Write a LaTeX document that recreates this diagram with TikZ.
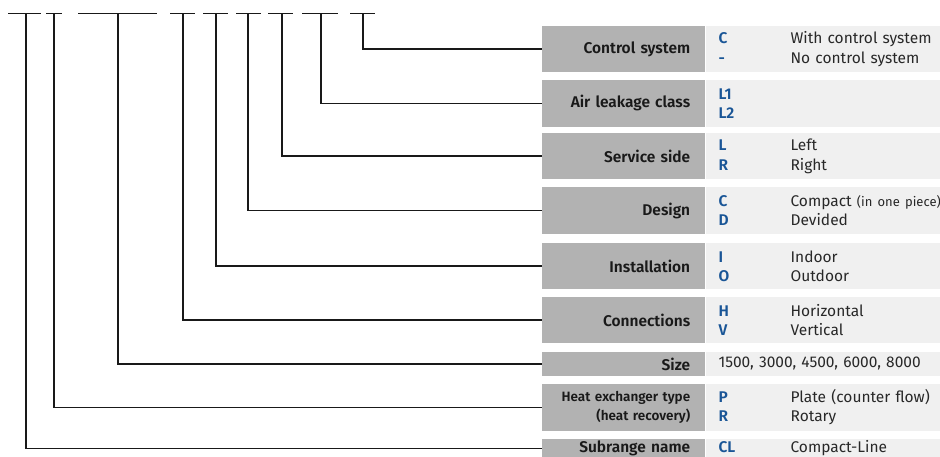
\documentclass[tikz,border=0pt]{standalone}
\usepackage{fontspec}
\setmainfont{Fira Sans}[BoldFont={Fira Sans SemiBold}]
\usetikzlibrary{positioning}

\definecolor{boxdark}{RGB}{178,178,178}
\definecolor{boxlight}{RGB}{240,240,240}
\definecolor{codeblue}{RGB}{25,85,150}
\definecolor{textgrey}{RGB}{40,40,40}

% code letter in its own column, description after it
\newcommand{\keycode}[1]{\makebox[72pt][l]{\textcolor{codeblue}{\bfseries #1}}}

\begin{document}
\begin{tikzpicture}[x=1pt,y=-1pt,
    wire/.style={line width=1.4pt,black!90},
    lbl/.style={fill=boxdark,anchor=north west,minimum width=163pt,
      minimum height=46.5pt,text width=133pt,inner xsep=15pt,align=right,
      text=black!90,font=\bfseries\fontsize{15.5}{19.5}\selectfont},
    val/.style={fill=boxlight,minimum width=235pt,minimum height=46.5pt,
      text width=230pt,inner xsep=13pt,align=left,
      text=textgrey,font=\fontsize{15.5}{19.5}\selectfont}]
  \useasboundingbox (0,0) rectangle (940,457);

  % dashes of the type code
  \foreach \a/\b in {8/41,46/62,78/157,170/195,203/228,236/261,268/293,302/338,350/375}
    \draw[wire] (\a,13.5) -- (\b,13.5);

  % rows
  \node[lbl] (ctrl) at (542,25.7) {Control system};
  \node[val,right=0pt of ctrl] (ctrlv) {\keycode{C}With control system\\\keycode{-}No control system};
  \node[lbl] (leak) at (542,80) {Air leakage class};
  \node[val,right=0pt of leak] (leakv) {\keycode{L1}\\\keycode{L2}};
  \node[lbl] (serv) at (542,132.7) {Service side};
  \node[val,right=0pt of serv] (servv) {\keycode{L}Left\\\keycode{R}Right};
  \node[lbl] (design) at (542,187.3) {Design};
  \node[val,right=0pt of design] (designv) {\keycode{C}Compact {\fontsize{13}{19.5}\selectfont(in one piece)}\\\keycode{D}Devided};
  \node[lbl] (inst) at (542,242.7) {Installation};
  \node[val,right=0pt of inst] (instv) {\keycode{I}Indoor\\\keycode{O}Outdoor};
  \node[lbl] (conn) at (542,296.7) {Connections};
  \node[val,right=0pt of conn] (connv) {\keycode{H}Horizontal\\\keycode{V}Vertical};
  \node[lbl,minimum height=24pt] (size) at (542,351.7) {Size};
  \node[val,minimum height=24pt,right=0pt of size] (sizev) {1500, 3000, 4500, 6000, 8000};
  \node[lbl,minimum height=47.4pt,font=\bfseries\fontsize{13.5}{19}\selectfont] (hex) at (542,383.3)
    {Heat exchanger type\\(heat recovery)};
  \node[val,minimum height=47.4pt,right=0pt of hex] (hexv) {\keycode{P}Plate (counter flow)\\\keycode{R}Rotary};
  \node[lbl,minimum height=20pt,inner ysep=1pt] (sub) at (542,438.3) {Subrange name};
  \node[val,minimum height=20pt,inner ysep=1pt,right=0pt of sub] (subv) {\keycode{CL}Compact-Line};

  % tops of the leaders
  \coordinate (t1) at (363,13.5);
  \coordinate (t2) at (321,13.5);
  \coordinate (t3) at (282,13.5);
  \coordinate (t4) at (248,13.5);
  \coordinate (t5) at (216,13.5);
  \coordinate (t6) at (183,13.5);
  \coordinate (t7) at (118,13.5);
  \coordinate (t8) at (54,13.5);
  \coordinate (t9) at (26,13.5);

  \draw[wire] (t1) |- (ctrl.west);
  \draw[wire] (t2) |- (leak.west);
  \draw[wire] (t3) |- (serv.west);
  \draw[wire] (t4) |- (design.west);
  \draw[wire] (t5) |- (inst.west);
  \draw[wire] (t6) |- (conn.west);
  \draw[wire] (t7) |- (size.west);
  \draw[wire] (t8) |- (hex.west);
  \draw[wire] (t9) |- (sub.west);
\end{tikzpicture}
\end{document}
